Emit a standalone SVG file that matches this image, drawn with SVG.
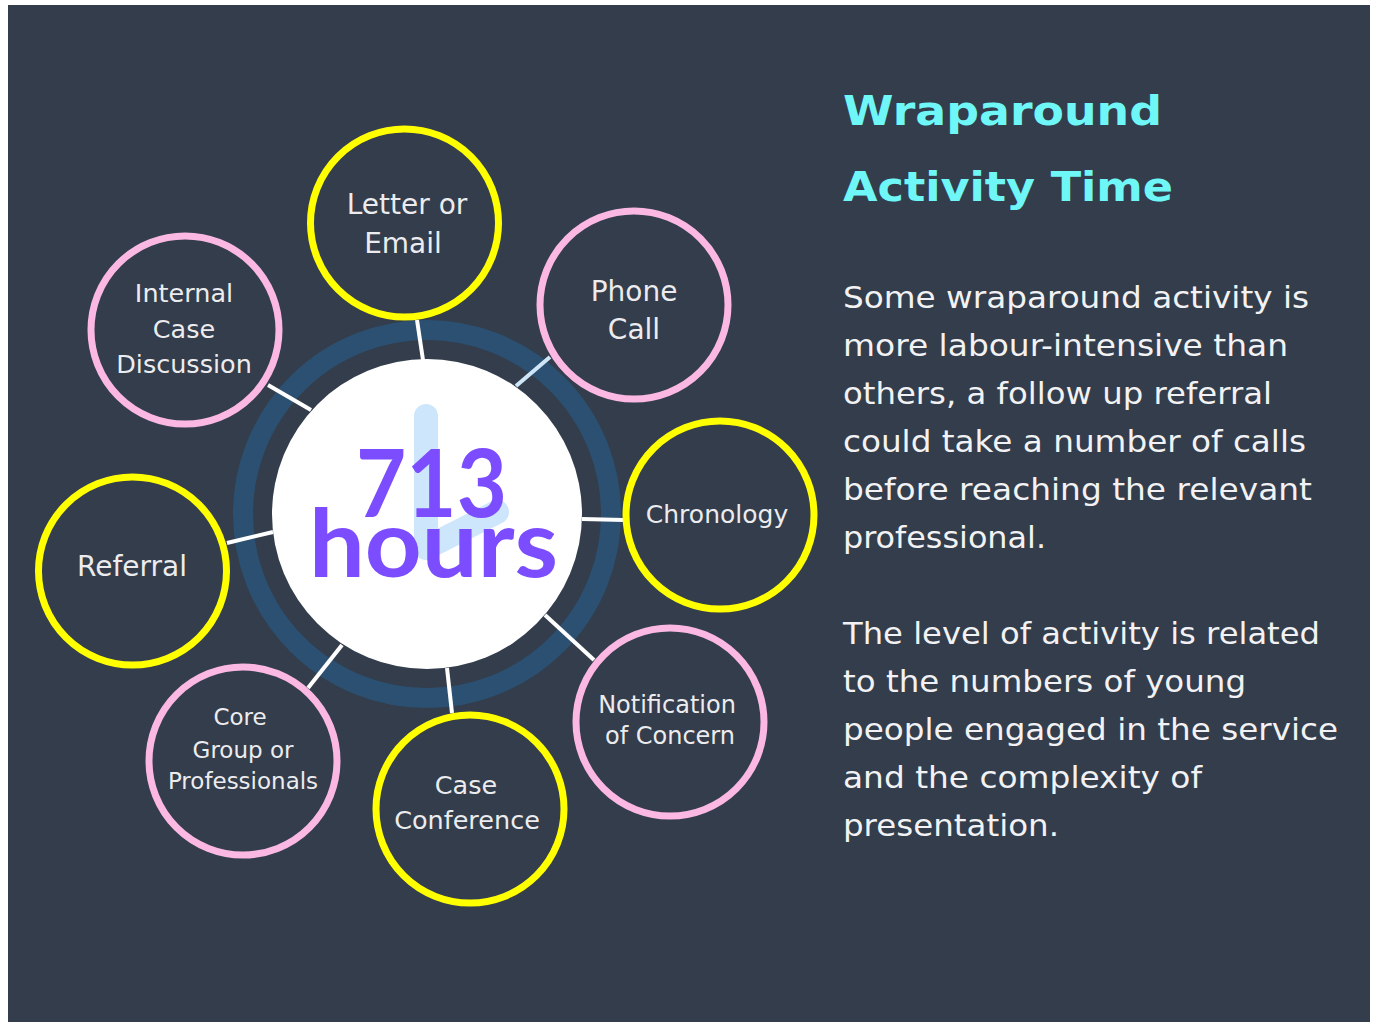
<svg xmlns="http://www.w3.org/2000/svg" width="1377" height="1022" viewBox="0 0 1377 1022">
  <defs>
    <style>
      .node-yellow { fill: #333d4b; stroke: #ffff00; stroke-width: 7; }
      .node-pink { fill: #333d4b; stroke: #fbb8e3; stroke-width: 7; }
      .label { font-family: "DejaVu Sans", "Open Sans", sans-serif; fill: #ececef; text-anchor: middle; }
      .link { stroke: #ffffff; stroke-width: 4; stroke-linecap: butt; }
      .body { font-family: "DejaVu Sans", "Open Sans", sans-serif; font-size: 30px; fill: #f2f2f4; }
      .title { font-family: "DejaVu Sans", "Open Sans", sans-serif; font-size: 41px; font-weight: 700; fill: #6ff7f7; }
      .big { font-family: Lato, "Open Sans", sans-serif; font-size: 94px; font-weight: 700; fill: #7b4dff; text-anchor: middle; }
    </style>
  </defs>

  <!-- page background -->
  <rect x="0" y="0" width="1377" height="1022" fill="#ffffff"/>
  <rect x="8" y="5" width="1362" height="1017" fill="#333d4b"/>

  <!-- outer ring around the hub -->
  <circle cx="427" cy="514" r="184" fill="none" stroke="#2b5071" stroke-width="20"/>

  <!-- spokes -->
  <g id="connectors">
    <line class="link" x1="417" y1="320" x2="423" y2="360"/>
    <line class="link" x1="550" y1="357" x2="516" y2="386" style="stroke:#cfe6f8"/>
    <line class="link" x1="582" y1="519" x2="624" y2="520"/>
    <line class="link" x1="545" y1="615" x2="594" y2="660"/>
    <line class="link" x1="447" y1="668" x2="452" y2="713"/>
    <line class="link" x1="342" y1="645" x2="308" y2="688"/>
    <line class="link" x1="273" y1="532" x2="227" y2="543"/>
    <line class="link" x1="268" y1="385" x2="311" y2="410"/>
  </g>

  <!-- hub: clock face with total hours -->
  <g id="hub">
    <circle cx="427" cy="514" r="155" fill="#ffffff"/>
    <polyline points="426,416 426,548 497,512" fill="none" stroke="#cde6fb" stroke-width="24" stroke-linecap="round" stroke-linejoin="round"/>
    <text class="big" x="431.5" y="517" textLength="151" lengthAdjust="spacingAndGlyphs">713</text>
    <text class="big" x="433.5" y="577" textLength="249" lengthAdjust="spacingAndGlyphs">hours</text>
  </g>

  <g id="node-letter">
    <circle class="node-yellow" cx="404.5" cy="223" r="94"/>
    <text class="label" x="407" y="214" font-size="28">Letter or</text>
    <text class="label" x="403" y="253" font-size="28">Email</text>
  </g>

  <g id="node-phone">
    <circle class="node-pink" cx="634" cy="305" r="94"/>
    <text class="label" x="634" y="301" font-size="28">Phone</text>
    <text class="label" x="634" y="339" font-size="28">Call</text>
  </g>

  <g id="node-chronology">
    <circle class="node-yellow" cx="720" cy="515" r="94"/>
    <text class="label" x="717" y="523" font-size="25">Chronology</text>
  </g>

  <g id="node-notification">
    <circle class="node-pink" cx="670" cy="722" r="94"/>
    <text class="label" x="667" y="713" font-size="24">Notification</text>
    <text class="label" x="670" y="744" font-size="24">of Concern</text>
  </g>

  <g id="node-case-conference">
    <circle class="node-yellow" cx="470" cy="809" r="94"/>
    <text class="label" x="466" y="794" font-size="25.5">Case</text>
    <text class="label" x="467" y="829" font-size="25.5">Conference</text>
  </g>

  <g id="node-core-group">
    <circle class="node-pink" cx="243" cy="761" r="94"/>
    <text class="label" x="240" y="725" font-size="23">Core</text>
    <text class="label" x="243" y="758" font-size="23">Group or</text>
    <text class="label" x="243" y="789" font-size="23">Professionals</text>
  </g>

  <g id="node-referral">
    <circle class="node-yellow" cx="132.5" cy="571" r="94"/>
    <text class="label" x="132" y="576" font-size="28">Referral</text>
  </g>

  <g id="node-internal">
    <circle class="node-pink" cx="185" cy="330" r="94"/>
    <text class="label" x="184" y="302" font-size="25.5">Internal</text>
    <text class="label" x="184" y="338" font-size="25.5">Case</text>
    <text class="label" x="184" y="373" font-size="25.5">Discussion</text>
  </g>

  <!-- heading and explanatory copy -->
  <g id="notes">
    <text class="title" x="843" y="125" textLength="319" lengthAdjust="spacingAndGlyphs">Wraparound</text>
    <text class="title" x="843" y="201" textLength="330" lengthAdjust="spacingAndGlyphs">Activity Time</text>

    <text class="body" x="843" y="308" textLength="466" lengthAdjust="spacingAndGlyphs">Some wraparound activity is</text>
    <text class="body" x="843" y="356" textLength="445" lengthAdjust="spacingAndGlyphs">more labour-intensive than</text>
    <text class="body" x="843" y="404" textLength="429" lengthAdjust="spacingAndGlyphs">others, a follow up referral</text>
    <text class="body" x="843" y="452" textLength="463" lengthAdjust="spacingAndGlyphs">could take a number of calls</text>
    <text class="body" x="843" y="500" textLength="469" lengthAdjust="spacingAndGlyphs">before reaching the relevant</text>
    <text class="body" x="843" y="548" textLength="203" lengthAdjust="spacingAndGlyphs">professional.</text>

    <text class="body" x="843" y="644" textLength="477" lengthAdjust="spacingAndGlyphs">The level of activity is related</text>
    <text class="body" x="843" y="692" textLength="403" lengthAdjust="spacingAndGlyphs">to the numbers of young</text>
    <text class="body" x="843" y="740" textLength="495" lengthAdjust="spacingAndGlyphs">people engaged in the service</text>
    <text class="body" x="843" y="788" textLength="359" lengthAdjust="spacingAndGlyphs">and the complexity of</text>
    <text class="body" x="843" y="836" textLength="216" lengthAdjust="spacingAndGlyphs">presentation.</text>
  </g>
</svg>
